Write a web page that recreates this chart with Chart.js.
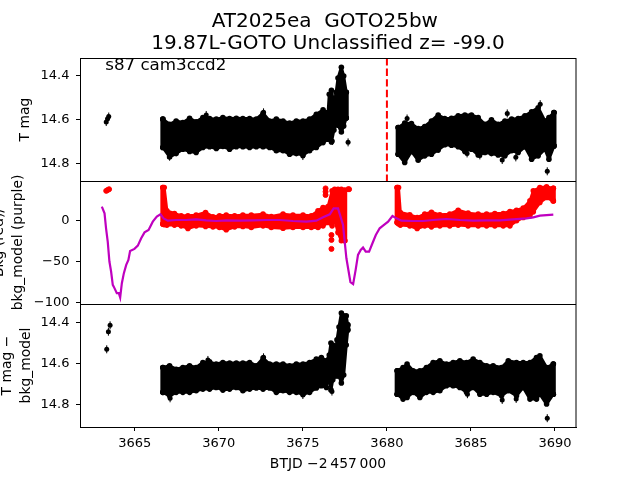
<!DOCTYPE html>
<html>
<head>
<meta charset="utf-8">
<script src="https://cdn.jsdelivr.net/npm/chart.js@4"></script>
<style>
  html, body { margin: 0; padding: 0; background: #fff; }
  canvas { display: block; }
</style>
</head>
<body>
<canvas id="lc" width="640" height="480"></canvas>
<script>
const titleLines = ['AT2025ea  GOTO25bw ', '19.87L-GOTO Unclassified z= -99.0'];
const noteText = 's87 cam3ccd2';
const xTicks = [3665, 3670, 3675, 3680, 3685, 3690];
const magTicks = [14.4, 14.6, 14.8];
const bkgTicks = [0, -50, -100];
const discoveryT = [3680, 3680];
const discoveryMag = [14.32, 14.877];

// first stretch of the light curve, black band edges
const leftT = [3666.67, 3667.07, 3667.46, 3667.86, 3668.26, 3668.65, 3669.05, 3669.45, 3669.85, 3670.24, 3670.64, 3671.04, 3671.43, 3671.83, 3672.23, 3672.63, 3673.02, 3673.42, 3673.82, 3674.21, 3674.61, 3675.01, 3675.40, 3675.80, 3676.20, 3676.50, 3676.57, 3676.70, 3676.85, 3676.98, 3677.09, 3677.29, 3677.43, 3677.58];
const leftMagHi = [14.597, 14.620, 14.605, 14.612, 14.593, 14.609, 14.590, 14.594, 14.597, 14.590, 14.594, 14.593, 14.594, 14.594, 14.597, 14.570, 14.605, 14.597, 14.605, 14.615, 14.605, 14.605, 14.597, 14.575, 14.555, 14.567, 14.484, 14.466, 14.529, 14.475, 14.411, 14.362, 14.402, 14.475];
const leftMagLo = [14.725, 14.768, 14.753, 14.733, 14.743, 14.748, 14.725, 14.722, 14.730, 14.721, 14.733, 14.722, 14.722, 14.725, 14.722, 14.722, 14.725, 14.740, 14.740, 14.756, 14.753, 14.759, 14.740, 14.725, 14.703, 14.688, 14.660, 14.700, 14.646, 14.619, 14.624, 14.655, 14.628, 14.592];

const rightT = [3680.67, 3681.06, 3681.46, 3681.86, 3682.25, 3682.65, 3683.05, 3683.44, 3683.84, 3684.24, 3684.64, 3685.03, 3685.43, 3685.83, 3686.22, 3686.62, 3687.02, 3687.42, 3687.81, 3688.21, 3688.61, 3689.00, 3689.40, 3689.64, 3689.94];
const rightMagHi = [14.635, 14.615, 14.617, 14.640, 14.630, 14.605, 14.578, 14.594, 14.593, 14.582, 14.578, 14.578, 14.590, 14.620, 14.600, 14.620, 14.605, 14.597, 14.594, 14.582, 14.564, 14.545, 14.605, 14.590, 14.567];
const rightMagLo = [14.756, 14.793, 14.743, 14.783, 14.763, 14.756, 14.737, 14.713, 14.715, 14.722, 14.743, 14.733, 14.759, 14.748, 14.753, 14.759, 14.763, 14.740, 14.748, 14.722, 14.778, 14.763, 14.733, 14.778, 14.718];

const looseT = [3663.30, 3663.38, 3663.45, 3681.20, 3687.16, 3689.12, 3686.86, 3687.67, 3689.54, 3685.53, 3684.77, 3672.66, 3669.25, 3667.07, 3675.00, 3676.75, 3677.69];
const looseMag = [14.610, 14.595, 14.585, 14.594, 14.571, 14.529, 14.782, 14.770, 14.833, 14.761, 14.752, 14.566, 14.578, 14.767, 14.764, 14.696, 14.702];

// background panel
const bkgLeftT = [3666.67, 3666.75, 3666.91, 3667.36, 3667.76, 3668.16, 3668.65, 3669.21, 3669.65, 3670.04, 3670.44, 3670.94, 3671.43, 3671.93, 3672.63, 3673.12, 3673.82, 3674.41, 3675.01, 3675.50, 3675.90, 3676.20, 3676.50, 3676.74, 3676.89, 3677.09, 3677.29, 3677.49];
const bkgLeftHi = [40.0, 40.0, 11.7, 8.5, 5.7, 5.7, 6.5, 9.7, 4.4, 5.7, 6.5, 5.7, 6.5, 6.5, 7.7, 4.9, 7.7, 6.5, 6.5, 5.7, 11.7, 15.8, 17.0, 36.0, 38.0, 38.0, 38.0, 36.8];
const bkgLeftLo = [-4.4, -5.0, -5.6, -5.6, -6.5, -9.7, -6.5, -7.3, -7.7, -8.5, -11.3, -7.7, -7.3, -8.5, -6.5, -8.5, -9.3, -8.5, -8.5, -8.5, -8.5, -6.5, -2.4, -6.5, 1.6, -14.5, -24.6, -24.6];

const bkgRightT = [3680.61, 3680.69, 3680.80, 3681.36, 3681.80, 3682.25, 3682.65, 3683.15, 3683.74, 3684.24, 3684.83, 3685.43, 3685.93, 3686.42, 3686.92, 3687.32, 3687.71, 3688.11, 3688.51, 3688.71, 3689.10, 3689.50, 3689.90];
const bkgRightHi = [40.0, 40.0, 9.7, 6.9, 3.6, 7.7, 10.1, 6.9, 7.7, 12.5, 8.9, 7.7, 7.7, 8.5, 8.5, 10.9, 12.5, 15.0, 23.8, 36.0, 40.0, 40.8, 39.2];
const bkgRightLo = [-2.4, -4.0, -5.6, -6.5, -9.7, -6.5, -7.7, -6.5, -6.5, -5.6, -6.5, -6.5, -6.5, -6.5, -6.5, -6.5, -0.4, 3.6, 5.7, 10.5, 21.8, 27.9, 23.8];

const bkgLooseT = [3663.30, 3663.38, 3663.47, 3676.35, 3676.35, 3676.35, 3676.70, 3676.70, 3676.70, 3677.69, 3677.75];
const bkgLoose = [36, 37, 38, 39, 35, 31, -17.6, -23.6, -34.5, 38, 38];

const modelT = [3663.04, 3663.20, 3663.29, 3663.39, 3663.49, 3663.59, 3663.69, 3663.79, 3663.93, 3664.05, 3664.13, 3664.23, 3664.35, 3664.49, 3664.62, 3664.72, 3664.98, 3665.18, 3665.38, 3665.58, 3665.82, 3666.07, 3666.31, 3666.53, 3666.71, 3666.97, 3667.46, 3668.06, 3668.65, 3669.25, 3669.85, 3670.44, 3671.24, 3672.03, 3672.82, 3673.62, 3674.41, 3675.21, 3675.80, 3676.20, 3676.60, 3676.83, 3677.09, 3677.39, 3677.59, 3677.83, 3677.99, 3678.14, 3678.28, 3678.44, 3678.58, 3678.74, 3678.94, 3679.14, 3679.34, 3679.57, 3679.77, 3680.07, 3680.33, 3680.57, 3680.86, 3681.56, 3682.15, 3682.75, 3683.54, 3684.34, 3685.13, 3685.93, 3686.72, 3687.51, 3688.31, 3688.71, 3689.10, 3689.90];
const modelBkg = [16.8, 8.7, -9.5, -25.7, -49.9, -62.0, -78.2, -82.2, -88.3, -88.3, -93.5, -76.2, -64.0, -53.9, -47.9, -37.0, -34.5, -30.5, -21.6, -14.4, -11.5, -1.4, 4.7, 7.5, 2.6, -0.2, 0.6, 0.6, 1.4, 0.2, -0.6, 0.2, -0.2, 0.2, 0.6, 0.6, -0.6, -1.4, -0.2, 3.8, 7.5, 14.8, 14.8, -5.5, -45.9, -75.0, -77.4, -60.0, -41.8, -35.8, -32.9, -37.8, -37.8, -27.7, -17.6, -9.5, -6.3, -1.4, 5.4, 2.6, -0.2, -0.6, -0.6, 0.6, 1.8, 0.6, -0.2, 0.2, 0.2, 1.4, 2.6, 3.8, 5.9, 7.1];

// bottom panel, T mag minus bkg_model
const subLeftT = [3666.67, 3667.07, 3667.46, 3667.86, 3668.26, 3668.65, 3669.05, 3669.45, 3669.84, 3670.24, 3670.64, 3671.04, 3671.43, 3671.83, 3672.23, 3672.63, 3673.02, 3673.42, 3673.82, 3674.21, 3674.61, 3675.01, 3675.40, 3675.80, 3676.10, 3676.40, 3676.57, 3676.67, 3676.78, 3676.90, 3677.03, 3677.15, 3677.29, 3677.43, 3677.58, 3677.67];
const subLeftHi = [14.620, 14.611, 14.628, 14.620, 14.611, 14.620, 14.595, 14.592, 14.603, 14.595, 14.598, 14.598, 14.598, 14.595, 14.611, 14.574, 14.603, 14.603, 14.603, 14.611, 14.603, 14.603, 14.595, 14.579, 14.571, 14.587, 14.559, 14.500, 14.510, 14.573, 14.485, 14.422, 14.354, 14.368, 14.368, 14.412];
const subLeftLo = [14.741, 14.758, 14.741, 14.741, 14.741, 14.733, 14.725, 14.725, 14.717, 14.730, 14.725, 14.717, 14.733, 14.725, 14.720, 14.725, 14.720, 14.741, 14.733, 14.741, 14.741, 14.750, 14.741, 14.720, 14.709, 14.717, 14.661, 14.729, 14.680, 14.661, 14.661, 14.661, 14.695, 14.656, 14.510, 14.437];

const subRightT = [3680.61, 3680.96, 3681.20, 3681.56, 3681.96, 3682.35, 3682.75, 3683.15, 3683.54, 3683.94, 3684.34, 3684.74, 3685.13, 3685.53, 3685.93, 3686.32, 3686.82, 3687.22, 3687.71, 3688.11, 3688.51, 3688.90, 3689.10, 3689.50, 3689.90];
const subRightHi = [14.636, 14.620, 14.603, 14.636, 14.636, 14.620, 14.595, 14.587, 14.603, 14.595, 14.587, 14.595, 14.579, 14.595, 14.611, 14.611, 14.620, 14.587, 14.595, 14.595, 14.595, 14.571, 14.563, 14.620, 14.603];
const subRightLo = [14.750, 14.774, 14.766, 14.741, 14.766, 14.741, 14.741, 14.733, 14.709, 14.709, 14.717, 14.741, 14.717, 14.750, 14.750, 14.741, 14.758, 14.733, 14.758, 14.717, 14.774, 14.774, 14.750, 14.798, 14.750];

const subLooseT = [3663.33, 3663.43, 3663.53, 3689.54, 3686.86, 3687.69, 3684.79, 3667.10, 3675.00, 3676.73, 3672.66, 3669.35];
const subLoose = [14.531, 14.445, 14.414, 14.867, 14.778, 14.773, 14.750, 14.770, 14.754, 14.737, 14.570, 14.583];

const font = 'DejaVu Sans';
const toPts = (xs, ys) => xs.map((x, i) => ({ x: x, y: ys[i] }));

// band of overlapping markers: two edge lines with a fill between, round markers on top for the bumps
function band(ts, hi, lo, color, axis) {
  const last = ts.length - 1;
  const base = { borderColor: color, backgroundColor: color, pointBackgroundColor: color, pointBorderColor: color, pointBorderWidth: 0, pointRadius: 2.8, borderWidth: 3, borderJoinStyle: 'round', borderCapStyle: 'round', showLine: true, tension: 0, yAxisID: axis };
  return [
    Object.assign({}, base, { data: toPts(ts, hi), fill: '+1' }),
    Object.assign({}, base, { data: toPts(ts, lo), fill: false }),
    Object.assign({}, base, { data: [{ x: ts[0], y: hi[0] }, { x: ts[0], y: lo[0] }], fill: false, borderWidth: 5 }),
    Object.assign({}, base, { data: [{ x: ts[last], y: hi[last] }, { x: ts[last], y: lo[last] }], fill: false, borderWidth: 5 })
  ];
}

function loose(ts, ys, color, axis) {
  return [
    { data: toPts(ts, ys), pointRadius: 2.5, pointBackgroundColor: color, pointBorderColor: color, borderWidth: 0, showLine: false, yAxisID: axis },
    { data: toPts(ts, ys), pointStyle: 'line', pointRotation: 90, pointRadius: 4, pointBorderColor: color, pointBorderWidth: 1, showLine: false, yAxisID: axis }
  ];
}

function yAxis(lo, hi, ticks, rev, title, titlePad, fmt) {
  return {
    type: 'linear', position: 'left', stack: 'panels', stackWeight: 1, reverse: rev, min: lo, max: hi,
    afterBuildTicks: s => { s.ticks = ticks.map(v => ({ value: v })); },
    afterFit: s => { s.width = 80; },
    border: { color: '#000', width: 1 },
    grid: { drawOnChartArea: false, tickLength: 4, tickColor: '#000', tickWidth: 1 },
    ticks: { color: '#000', padding: 6.5, font: { family: font, size: 13 }, callback: fmt },
    title: { display: true, text: title, color: '#000', padding: titlePad, font: { family: font, size: 13.9, lineHeight: 1.37 } }
  };
}

const framePlugin = {
  id: 'frame',
  afterLayout(chart) {
    // title is centred over the axes, not over the whole figure
    chart.titleBlock.left = chart.chartArea.left;
    chart.titleBlock.right = chart.chartArea.right;
  },
  afterDatasetsDraw(chart) {
    const c = chart.ctx, a = chart.chartArea;
    c.save();
    c.strokeStyle = '#000';
    c.lineWidth = 1;
    c.strokeRect(a.left + 0.5, a.top + 0.5, a.right - a.left - 0.5, a.bottom - a.top);
    [chart.scales.yMag, chart.scales.yBkg].forEach(s => {
      c.beginPath();
      c.moveTo(a.left, Math.round(s.bottom) + 0.5);
      c.lineTo(a.right, Math.round(s.bottom) + 0.5);
      c.stroke();
    });
    c.fillStyle = '#000';
    c.font = '16.7px "' + font + '"';
    c.textBaseline = 'alphabetic';
    c.fillText(noteText, chart.scales.x.getPixelForValue(3663.24), chart.scales.yMag.top + 12);
    c.restore();
  }
};

new Chart(document.getElementById('lc').getContext('2d'), {
  type: 'scatter',
  data: {
    datasets: [
      { data: toPts(discoveryT, discoveryMag), showLine: true, borderColor: '#ff0000', borderWidth: 2, borderDash: [7.4, 3.2], pointRadius: 0, yAxisID: 'yMag' },
      { data: toPts(modelT, modelBkg), showLine: true, borderColor: '#bf00bf', borderWidth: 2.2, tension: 0, pointRadius: 0, yAxisID: 'yBkg' },
      ...band(leftT, leftMagHi, leftMagLo, '#000', 'yMag'),
      ...band(rightT, rightMagHi, rightMagLo, '#000', 'yMag'),
      ...loose(looseT, looseMag, '#000', 'yMag'),
      ...band(bkgLeftT, bkgLeftHi, bkgLeftLo, '#ff0000', 'yBkg'),
      ...band(bkgRightT, bkgRightHi, bkgRightLo, '#ff0000', 'yBkg'),
      { data: toPts(bkgLooseT, bkgLoose), pointRadius: 2.5, pointBackgroundColor: '#ff0000', pointBorderColor: '#ff0000', showLine: false, yAxisID: 'yBkg' },
      ...band(subLeftT, subLeftHi, subLeftLo, '#000', 'ySub'),
      ...band(subRightT, subRightHi, subRightLo, '#000', 'ySub'),
      ...loose(subLooseT, subLoose, '#000', 'ySub')
    ]
  },
  options: {
    responsive: false,
    animation: false,
    layout: { padding: { left: 0, right: 64, top: 0, bottom: 0 } },
    plugins: {
      legend: { display: false },
      tooltip: { enabled: false },
      title: { display: true, text: titleLines, color: '#000', padding: { top: 11, bottom: 3 }, font: { family: font, size: 20, weight: 'normal', lineHeight: 1.1 } }
    },
    scales: {
      x: {
        type: 'linear', position: 'bottom', min: 3661.74, max: 3691.25,
        afterBuildTicks: s => { s.ticks = xTicks.map(v => ({ value: v })); },
        afterFit: s => { s.height = 53; },
        border: { color: '#000', width: 1 },
        grid: { drawOnChartArea: false, tickLength: 4, tickColor: '#000' },
        ticks: { color: '#000', maxRotation: 0, padding: 5, font: { family: font, size: 13 }, callback: v => String(v) },
        title: { display: true, text: 'BTJD \u22122\u2009457\u2009000', color: '#000', padding: { top: 0, bottom: 7 }, font: { family: font, size: 13.9 } }
      },
      ySub: yAxis(14.31, 14.91, magTicks, true, ['T mag \u2212', 'bkg_model'], -2, v => v.toFixed(1)),
      yBkg: yAxis(-101.5, 48, bkgTicks, false, ['Bkg (red)/', 'bkg_model (purple)'], -10, v => String(v).replace('-', '\u2212')),
      yMag: yAxis(14.32, 14.877, magTicks, true, 'T mag', 16, v => v.toFixed(1))
    }
  },
  plugins: [framePlugin]
});
</script>
</body>
</html>
